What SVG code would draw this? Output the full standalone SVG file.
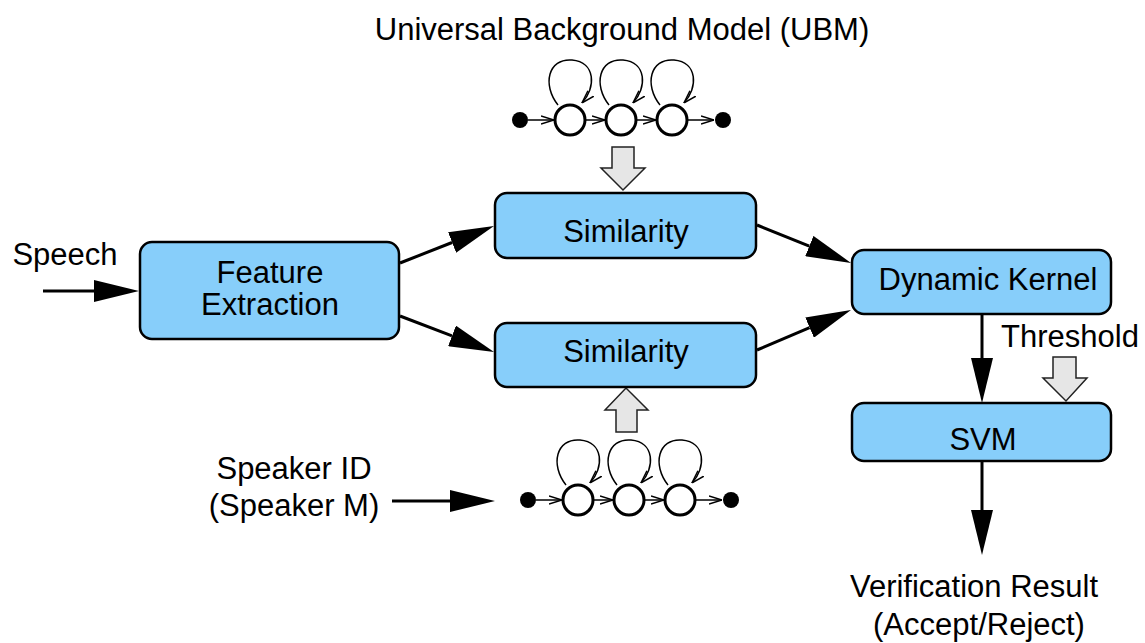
<svg xmlns="http://www.w3.org/2000/svg" xmlns:xlink="http://www.w3.org/1999/xlink" width="1145" height="643" viewBox="0 0 1145 643">
<style>
.box{fill:#87CEFA;stroke:#000;stroke-width:2.5}
.lbl{font-family:"Liberation Sans",Arial,sans-serif;font-size:31px;fill:#000;text-anchor:middle}
.conn{stroke:#000;stroke-width:3;fill:none}
.block{fill:#e6e6e6;stroke:#222;stroke-width:1.5;stroke-linejoin:miter}
.st{fill:#fff;stroke:#000;stroke-width:3}
.thin{stroke:#000;stroke-width:1.5;fill:none}
</style>
<defs>
<marker id="ah" viewBox="0 0 45 22" refX="0" refY="11" markerWidth="45" markerHeight="22" markerUnits="userSpaceOnUse" orient="auto">
<path d="M0,0 L45,11 L0,22 Z" fill="#000"/>
</marker>
<marker id="oh" viewBox="0 0 13 10" refX="13" refY="5" markerWidth="13" markerHeight="10" markerUnits="userSpaceOnUse" orient="auto">
<path d="M0,1 L13,5 L0,9" fill="none" stroke="#000" stroke-width="1.5"/>
</marker>
<g id="hmmShape">
<line class="thin" x1="8" y1="0" x2="34" y2="0" marker-end="url(#oh)"/>
<line class="thin" x1="65" y1="0" x2="85" y2="0" marker-end="url(#oh)"/>
<line class="thin" x1="116" y1="0" x2="136" y2="0" marker-end="url(#oh)"/>
<line class="thin" x1="167" y1="0" x2="194" y2="0" marker-end="url(#oh)"/>
<path class="thin" d="M38,-15 C22,-35 28,-62 52,-60 C76,-58 76,-32 62,-17" marker-end="url(#oh)"/>
<path class="thin" d="M89,-15 C73,-35 79,-62 103,-60 C127,-58 127,-32 113,-17" marker-end="url(#oh)"/>
<path class="thin" d="M140,-15 C124,-35 130,-62 154,-60 C178,-58 178,-32 164,-17" marker-end="url(#oh)"/>
<circle cx="0" cy="0" r="8" fill="#000"/>
<circle class="st" cx="50" cy="0" r="15"/>
<circle class="st" cx="101" cy="0" r="15"/>
<circle class="st" cx="152" cy="0" r="15"/>
<circle cx="203" cy="0" r="8" fill="#000"/>
</g>
</defs>

<g id="connectors">
<line class="conn" x1="43" y1="291" x2="94" y2="291" marker-end="url(#ah)"/>
<line class="conn" x1="400" y1="263" x2="452.1" y2="242.5" marker-end="url(#ah)"/>
<line class="conn" x1="400" y1="316" x2="452" y2="335.9" marker-end="url(#ah)"/>
<line class="conn" x1="757" y1="225" x2="809.3" y2="246.1" marker-end="url(#ah)"/>
<line class="conn" x1="757" y1="350" x2="809.6" y2="327.6" marker-end="url(#ah)"/>
<line class="conn" x1="982" y1="314" x2="982" y2="358" marker-end="url(#ah)"/>
<line class="conn" x1="982" y1="461" x2="982" y2="510" marker-end="url(#ah)"/>
<line class="conn" x1="392" y1="501" x2="450" y2="501" marker-end="url(#ah)"/>
<polygon class="block" points="612,147 634,147 634,168 645,168 623,190 601,168 612,168"/>
<polygon class="block" points="616,432 637,432 637,410 648,410 626,388 605,410 616,410"/>
<polygon class="block" points="1053,357 1076,357 1076,378 1087,378 1066,401 1043,378 1053,378"/>
</g>

<g id="ubm-title"><text class="lbl" x="622" y="40">Universal Background Model (UBM)</text></g>
<g id="ubm-hmm"><use xlink:href="#hmmShape" transform="translate(520,120)"/></g>
<g id="speaker-hmm"><use xlink:href="#hmmShape" transform="translate(528,500)"/></g>

<g id="speech"><text class="lbl" x="65" y="265">Speech</text></g>

<g id="feature-extraction">
<rect class="box" x="140" y="242" width="259" height="97" rx="12"/>
<text class="lbl" x="270" y="283">Feature</text>
<text class="lbl" x="270" y="315">Extraction</text>
</g>

<g id="similarity-ubm">
<rect class="box" x="495" y="193" width="261" height="65" rx="12"/>
<text class="lbl" x="626" y="242">Similarity</text>
</g>

<g id="similarity-speaker">
<rect class="box" x="495" y="323" width="261" height="64" rx="12"/>
<text class="lbl" x="626" y="362">Similarity</text>
</g>

<g id="dynamic-kernel">
<rect class="box" x="852" y="250" width="259" height="64" rx="12"/>
<text class="lbl" x="988" y="290">Dynamic Kernel</text>
</g>

<g id="threshold"><text class="lbl" x="1070" y="347">Threshold</text></g>

<g id="svm">
<rect class="box" x="852" y="403" width="259" height="58" rx="12"/>
<text class="lbl" x="983" y="450">SVM</text>
</g>

<g id="speaker-id">
<text class="lbl" x="294" y="479">Speaker ID</text>
<text class="lbl" x="294" y="516">(Speaker M)</text>
</g>

<g id="result">
<text class="lbl" x="974" y="597">Verification Result</text>
<text class="lbl" x="979" y="635">(Accept/Reject)</text>
</g>
</svg>
